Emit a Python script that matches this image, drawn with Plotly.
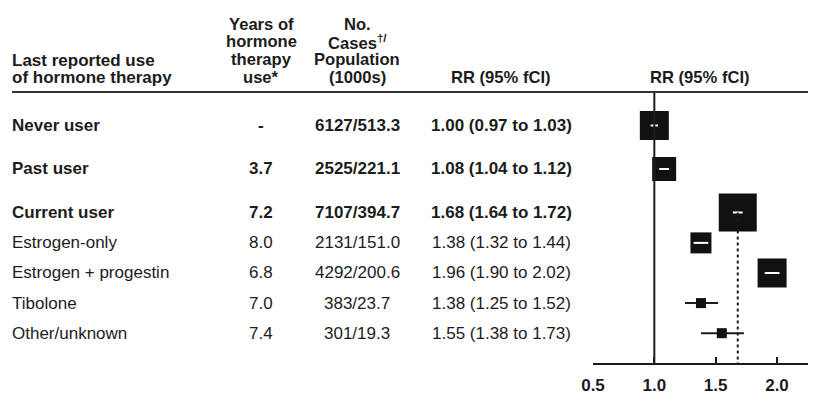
import plotly.graph_objects as go

# ---------------- data ----------------
labels = ["Never user", "Past user", "Current user", "Estrogen-only",
          "Estrogen + progestin", "Tibolone", "Other/unknown"]
is_group = [True, True, True, False, False, False, False]
years = [None, 3.7, 7.2, 8.0, 6.8, 7.0, 7.4]
cases = [6127, 2525, 7107, 2131, 4292, 383, 301]
population_k = [513.3, 221.1, 394.7, 151.0, 200.6, 23.7, 19.3]
rr = [1.00, 1.08, 1.68, 1.38, 1.96, 1.38, 1.55]
rr_lo = [0.97, 1.04, 1.64, 1.32, 1.90, 1.25, 1.38]
rr_hi = [1.03, 1.12, 1.72, 1.44, 2.02, 1.52, 1.73]
tick_vals = [0.5, 1.0, 1.5, 2.0]
tick_text = ["0.5", "1.0", "1.5", "2.0"]

# ---------------- style / layout ----------------
W, H = 821, 407
FONT = "Liberation Sans, Arial, Helvetica, sans-serif"
INK = "#1c1c1c"
FS = 17
FS_HEAD = 16.6
box_px = [29, 24, 38, 21, 29, 10, 10]          # box side in pixels (study weight)
row_gap = [0, 1.445, 1.445, 1.01, 1.0, 1.0, 1.0]
row_step_px = 30.1
first_row_px = 125.5
header_line_px = 92
axis_px = 364
x0_px, x2_px, xend_px = 593, 777, 808
x_min, x_max_tick = 0.5, 2.0
px_per_unit = (x2_px - x0_px) / (x_max_tick - x_min)
x_max = x_min + (xend_px - x0_px) / px_per_unit

row_pos = []
acc = 0.0
for g in row_gap:
    acc += g
    row_pos.append(acc)


def py(pix):  # pixel y -> y data
    return (pix - first_row_px) / row_step_px


def pxp(pix):  # pixel x -> paper
    return pix / W


def pyp(pix):  # pixel y -> paper
    return 1 - pix / H


fig = go.Figure()

# CI lines (black, full length)
for i in range(len(labels)):
    fig.add_trace(go.Scatter(x=[rr_lo[i], rr_hi[i]], y=[row_pos[i]] * 2,
                             mode="lines", line=dict(color=INK, width=2),
                             hoverinfo="skip", showlegend=False))
# boxes
fig.add_trace(go.Scatter(x=rr, y=row_pos, mode="markers",
                         marker=dict(symbol="square", size=box_px, color="#111111",
                                     opacity=1, line=dict(width=0)),
                         showlegend=False))
# CI shown in white when it lies entirely inside its box
for i in range(len(labels)):
    half = box_px[i] / 2 / px_per_unit
    if rr_lo[i] > rr[i] - half and rr_hi[i] < rr[i] + half:
        fig.add_trace(go.Scatter(x=[rr_lo[i], rr_hi[i]], y=[row_pos[i]] * 2, mode="lines",
                                 line=dict(color="white", width=2),
                                 hoverinfo="skip", showlegend=False))

# reference lines
fig.add_shape(type="line", xref="x", yref="paper", x0=1.0, x1=1.0,
              y0=pyp(header_line_px), y1=pyp(axis_px), line=dict(color=INK, width=2))
fig.add_shape(type="line", xref="x", yref="y", x0=rr[2], x1=rr[2],
              y0=row_pos[2], y1=py(axis_px), line=dict(color=INK, width=2, dash="dot"))
fig.add_shape(type="line", xref="paper", yref="paper", x0=pxp(12), x1=pxp(xend_px),
              y0=pyp(header_line_px), y1=pyp(header_line_px),
              line=dict(color="#333333", width=2))


def txt(text, xpix, ypix=None, yval=None, anchor="left", bold=False, size=FS):
    fig.add_annotation(
        text=text, xref="paper", x=pxp(xpix),
        yref="y" if yval is not None else "paper",
        y=yval if yval is not None else pyp(ypix),
        xanchor=anchor, yanchor="middle", showarrow=False, borderpad=0,
        font=dict(family=FONT, size=size, color=INK, weight="bold" if bold else "normal"))


# headers
txt("Last reported use", 11, 60, bold=True)
txt("of hormone therapy", 11, 77, bold=True)
for k, line in enumerate(["Years of", "hormone", "therapy", "use*"]):
    txt(line, 261, 24 + k * 17.7, anchor="center", bold=True, size=FS_HEAD)
for k, line in enumerate(["No.", "Cases<sup>†/</sup>", "Population", "(1000s)"]):
    txt(line, 357, 24 + k * 17.7, anchor="center", bold=True, size=FS_HEAD)
txt("RR (95% fCI)", 501, 77, anchor="center", bold=True, size=FS_HEAD)
txt("RR (95% fCI)", 700, 77, anchor="center", bold=True, size=FS_HEAD)

# rows
for i in range(len(labels)):
    b = is_group[i]
    txt(labels[i], 11, yval=row_pos[i], bold=b)
    yr = "-" if years[i] is None else f"{years[i]:.1f}"
    txt(yr, 261, yval=row_pos[i], anchor="center", bold=b)
    txt(f"{cases[i]}/{population_k[i]:.1f}", 357, yval=row_pos[i], anchor="center", bold=b)
    txt(f"{rr[i]:.2f} ({rr_lo[i]:.2f} to {rr_hi[i]:.2f})", 501, yval=row_pos[i],
        anchor="center", bold=b)

fig.update_layout(
    width=W, height=H, margin=dict(l=0, r=0, t=0, b=0, autoexpand=False),
    paper_bgcolor="white", plot_bgcolor="white",
    xaxis=dict(domain=[pxp(x0_px), pxp(xend_px)], range=[x_min, x_max],
               anchor="free", position=pyp(axis_px), automargin=False,
               showgrid=False, zeroline=False, showline=True, linecolor=INK, linewidth=2,
               ticks="inside", ticklen=6, tickwidth=2, tickcolor=INK,
               tickvals=tick_vals, ticktext=tick_text, ticklabelstandoff=6,
               tickfont=dict(family=FONT, size=FS, color=INK, weight="bold")),
    yaxis=dict(domain=[0, 1], range=[py(H), py(0)], visible=False, automargin=False),
    showlegend=False,
)

fig.write_html("out.html", config={"displayModeBar": False},
               post_script="document.body.style.margin='0px';")
